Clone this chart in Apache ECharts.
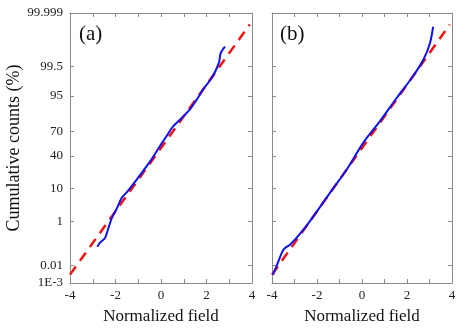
<!DOCTYPE html>
<html>
<head>
<meta charset="utf-8">
<script src="https://cdn.jsdelivr.net/npm/echarts@6/dist/echarts.min.js"></script>
<style>
  html, body { margin: 0; padding: 0; background: #fff; }
  #chart { width: 463px; height: 330px; }
</style>
</head>
<body>
<div id="chart"></div>
<script>
// probability-axis tick labels (cumulative %)
var probTicks = ['99.999', '99.5', '95', '70', '40', '10', '1', '0.01', '1E-3'];
var probValues = [99.999, 99.5, 95, 70, 40, 10, 1, 0.01, 0.001];
var xTicks = [-4, -2, 0, 2, 4];

// blue curves, [normalized field, normal quantile of cumulative count]
var curveA = [
  [-2.80, -3.12], [-2.68, -2.99], [-2.46, -2.84], [-2.32, -2.55], [-2.17, -2.23],
  [-1.95, -1.92], [-1.73, -1.58], [-1.51, -1.40], [-1.22, -1.14], [-0.78, -0.72],
  [-0.41, -0.35], [-0.04, 0.07], [0.25, 0.38], [0.54, 0.69], [0.91, 0.95],
  [1.27, 1.22], [1.57, 1.53], [1.93, 1.93], [2.23, 2.21], [2.45, 2.52],
  [2.56, 2.73], [2.62, 2.99], [2.81, 3.20]
];
var curveB = [
  [-3.96, -4.01], [-3.78, -3.70], [-3.48, -3.20], [-3.19, -3.05], [-2.74, -2.70],
  [-2.23, -2.23], [-1.41, -1.40], [-0.67, -0.67], [0.06, 0.17], [0.80, 0.85],
  [1.54, 1.58], [2.21, 2.21], [2.72, 2.78], [3.02, 3.31], [3.16, 3.83]
];
// ideal gaussian reference line
var refLine = [[-4, -4], [3.9, 3.9]];

// inverse normal cdf (Acklam) for placing the probability ticks
function probit(p) {
  var a = [-39.6968302866538, 220.946098424521, -275.928510446969, 138.357751867269, -30.6647980661472, 2.50662827745924];
  var b = [-54.4760987982241, 161.585836858041, -155.698979859887, 66.8013118877197, -13.2806815528857];
  var c = [-0.00778489400243029, -0.322396458041136, -2.40075827716184, -2.54973253934373, 4.37466414146497, 2.93816398269878];
  var d = [0.00778469570904146, 0.32246712907004, 2.445134137143, 3.75440866190742];
  var q, r;
  if (p < 0.02425) {
    q = Math.sqrt(-2 * Math.log(p));
    return (((((c[0]*q+c[1])*q+c[2])*q+c[3])*q+c[4])*q+c[5]) / ((((d[0]*q+d[1])*q+d[2])*q+d[3])*q+1);
  }
  if (p > 1 - 0.02425) {
    q = Math.sqrt(-2 * Math.log(1 - p));
    return -(((((c[0]*q+c[1])*q+c[2])*q+c[3])*q+c[4])*q+c[5]) / ((((d[0]*q+d[1])*q+d[2])*q+d[3])*q+1);
  }
  q = p - 0.5; r = q * q;
  return (((((a[0]*r+a[1])*r+a[2])*r+a[3])*r+a[4])*r+a[5])*q / (((((b[0]*r+b[1])*r+b[2])*r+b[3])*r+b[4])*r+1);
}

var zTicks = probValues.map(function (p) { return probit(p / 100); });
var zMax = zTicks[0];
var zMin = zTicks[zTicks.length - 1];

var font = 'Liberation Serif';
var axisColor = '#8a8a8a';
var tickStyle = { show: true, inside: true, length: 4, lineStyle: { color: axisColor, width: 1 } };

function xAxis (grid, bottom) {
  return {
    type: 'value', gridIndex: grid, min: -4, max: 4, interval: 1,
    position: bottom ? 'bottom' : 'top',
    name: bottom ? 'Normalized field' : '',
    nameLocation: 'middle', nameGap: 25,
    nameTextStyle: { fontFamily: font, fontSize: 17, color: '#111' },
    axisLine: { show: true, onZero: false, lineStyle: { color: axisColor, width: 1 } },
    axisTick: tickStyle,
    splitLine: { show: false },
    axisLabel: {
      show: bottom, fontFamily: font, fontSize: 13, color: '#222', margin: 6,
      formatter: function (v) { return xTicks.indexOf(v) >= 0 ? String(v) : ''; }
    }
  };
}

function yAxis (grid, left, labels) {
  return {
    type: 'value', gridIndex: grid, min: zMin, max: zMax,
    position: left ? 'left' : 'right',
    name: labels ? 'Cumulative counts (%)' : '',
    nameLocation: 'middle', nameGap: 46,
    nameTextStyle: { fontFamily: font, fontSize: 18, color: '#111' },
    axisLine: { show: true, onZero: false, lineStyle: { color: axisColor, width: 1 } },
    axisTick: Object.assign({ customValues: zTicks }, tickStyle),
    splitLine: { show: false },
    axisLabel: {
      show: labels, customValues: zTicks, fontFamily: font, fontSize: 13, color: '#222', margin: 7,
      formatter: function (v) {
        for (var i = 0; i < zTicks.length; i++) {
          if (Math.abs(zTicks[i] - v) < 1e-6) return probTicks[i];
        }
        return '';
      }
    }
  };
}

var option = {
  backgroundColor: '#fff',
  animation: false,
  grid: [
    { left: 70, top: 13, width: 182, height: 272 },
    { left: 272, top: 13, width: 180, height: 272 }
  ],
  xAxis: [xAxis(0, true), xAxis(0, false), xAxis(1, true), xAxis(1, false)],
  yAxis: [yAxis(0, true, true), yAxis(0, false, false), yAxis(1, true, false), yAxis(1, false, false)],
  graphic: [
    { type: 'text', left: 79, top: 24, style: { text: '(a)', font: '21px "Liberation Serif"', fill: '#111' } },
    { type: 'text', left: 280, top: 24, style: { text: '(b)', font: '21px "Liberation Serif"', fill: '#111' } }
  ],
  series: [
    { type: 'line', xAxisIndex: 0, yAxisIndex: 0, data: refLine, symbol: 'none',
      lineStyle: { color: '#ee1111', width: 2.5, type: [10, 7] } },
    { type: 'line', xAxisIndex: 0, yAxisIndex: 0, data: curveA, symbol: 'none', smooth: 0.3,
      lineStyle: { color: '#1010ee', width: 2 } },
    { type: 'line', xAxisIndex: 2, yAxisIndex: 2, data: refLine, symbol: 'none',
      lineStyle: { color: '#ee1111', width: 2.5, type: [10, 7] } },
    { type: 'line', xAxisIndex: 2, yAxisIndex: 2, data: curveB, symbol: 'none', smooth: 0.3,
      lineStyle: { color: '#1010ee', width: 2 } }
  ]
};

var chart = echarts.init(document.getElementById('chart'));
chart.setOption(option);
</script>
</body>
</html>
